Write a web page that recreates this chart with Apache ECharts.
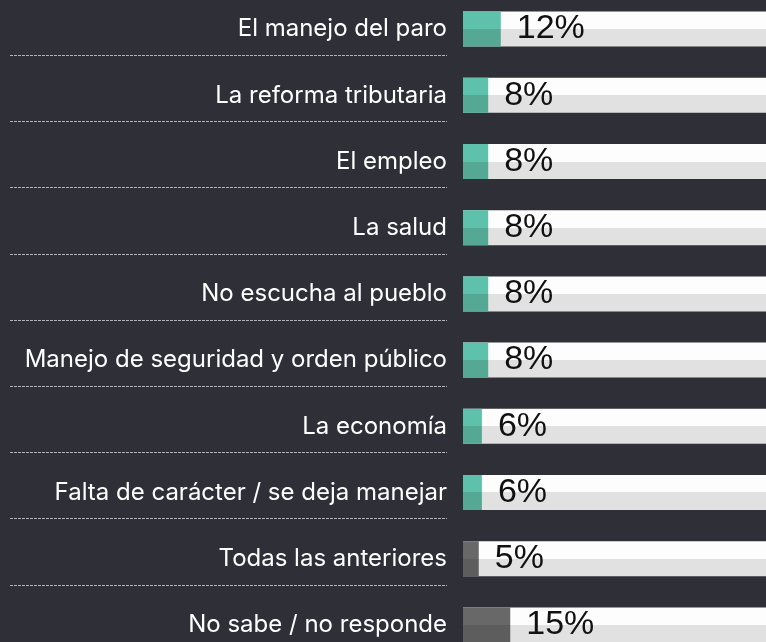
<!DOCTYPE html>
<html>
<head>
<meta charset="utf-8">
<script src="https://cdn.jsdelivr.net/npm/echarts@6/dist/echarts.min.js"></script>
<style>
  html, body { margin: 0; padding: 0; background: #2f2f38; }
</style>
</head>
<body>
<div id="main" style="width: 766px; height: 642px;"></div>
<script>
// categorias (de arriba a abajo)
const categories = [
  'El manejo del paro',
  'La reforma tributaria',
  'El empleo',
  'La salud',
  'No escucha al pueblo',
  'Manejo de seguridad y orden público',
  'La economía',
  'Falta de carácter / se deja manejar',
  'Todas las anteriores',
  'No sabe / no responde'
]
// porcentajes
const values = [12, 8, 8, 8, 8, 8, 6, 6, 5, 15]
// respuestas que van en gris
const neutral = ['Todas las anteriores', 'No sabe / no responde']

// degradado de dos tonos (mitad de arriba clara, mitad de abajo oscura)
const twoTone = (top, bottom) => ({
  type: 'linear', x: 0, y: 0, x2: 0, y2: 1,
  colorStops: [
    { offset: 0, color: top },
    { offset: 0.5, color: top },
    { offset: 0.5, color: bottom },
    { offset: 1, color: bottom }
  ]
})

const myChart = echarts.init(document.getElementById('main'))
myChart.setOption({
  backgroundColor: '#2f2f38',
  animation: false,
  grid: [
    { left: 463, right: -12, top: -4, bottom: -16, outerBoundsMode: 'none' },
    // grid solo para las lineas punteadas
    { left: 10, right: 319, top: -11, bottom: -9, outerBoundsMode: 'none' }
  ],
  xAxis: [
    { type: 'value', min: 0, max: 100, show: false, gridIndex: 0 },
    { type: 'value', min: 0, max: 1, show: false, gridIndex: 1 }
  ],
  yAxis: [
    {
      type: 'category',
      gridIndex: 0,
      inverse: true,
      data: categories,
      axisLine: { show: false },
      axisTick: { show: false },
      splitLine: { show: false },
      axisLabel: {
        interval: 0,
        margin: 16,
        color: '#ffffff',
        fontFamily: 'Inter',
        fontSize: 24,
        padding: [0, 0, 12, 0]
      }
    },
    {
      type: 'category',
      gridIndex: 1,
      inverse: true,
      data: categories,
      axisLine: { show: false },
      axisTick: { show: false },
      axisLabel: { show: false },
      splitLine: {
        show: true,
        interval: 0,
        lineStyle: { color: '#b4b4b8', width: 1, type: [3, 1] }
      }
    }
  ],
  series: [{
    type: 'bar',
    xAxisIndex: 0,
    yAxisIndex: 0,
    barWidth: 35,
    data: values.map((v, i) => ({
      value: v,
      itemStyle: {
        color: neutral.includes(categories[i])
          ? twoTone('#686868', '#5d5d5d')
          : twoTone('#5ec1ab', '#55a893')
      }
    })),
    showBackground: true,
    backgroundStyle: { color: twoTone('#fdfdfd', '#e1e1e1') },
    label: {
      show: true,
      position: 'right',
      distance: 16,
      formatter: '{c}%',
      color: '#111111',
      fontFamily: 'Liberation Sans',
      fontSize: 34
    }
  }]
})
</script>
</body>
</html>
